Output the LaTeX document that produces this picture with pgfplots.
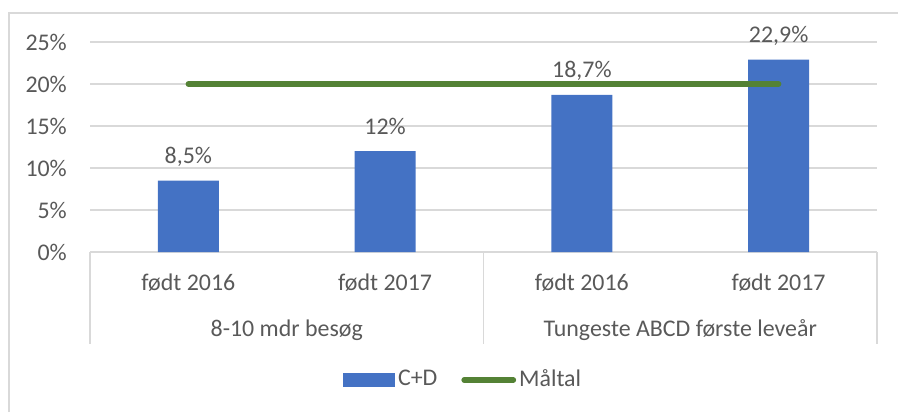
\documentclass[border=0pt]{standalone}
\usepackage{pgfplots}
\pgfplotsset{compat=1.18}
\usepackage{fontspec}
\setmainfont{Carlito}
\definecolor{barblue}{HTML}{4472C4}
\definecolor{goalgreen}{HTML}{548235}
\definecolor{txtgray}{HTML}{595959}
\definecolor{gridgray}{HTML}{D9D9D9}
\begin{document}
\begin{tikzpicture}[x=1bp,y=1bp]
\fontsize{24}{28}\selectfont
\useasboundingbox (0,0) rectangle (898,-412);
\draw[gridgray, line width=1.3bp] (9,-412) -- (9,-13) -- (898,-13);
\begin{axis}[
  at={(90bp,-252bp)}, anchor=south west,
  width=787bp, height=210bp, scale only axis,
  xmin=-0.5, xmax=3.5, ymin=0, ymax=25,
  clip=false,
  axis line style={draw=none},
  major tick length=0pt,
  xtick={0,1,2,3},
  xticklabels={født 2016, født 2017, født 2016, født 2017},
  ytick={0,5,10,15,20,25},
  yticklabel={\pgfmathprintnumber{\tick}\%},
  /pgf/number format/assume math mode=true,
  ymajorgrids,
  grid style={gridgray, line width=1.3bp},
  tick label style={font=\fontsize{24}{28}\selectfont, text=txtgray},
  xticklabel style={anchor=base, yshift=-38bp},
  yticklabel style={xshift=-15bp},
  legend style={draw=none, fill=none, inner sep=0pt, outer sep=0pt,
    anchor=west, at={(axis description cs:0.3215,-0.6095)},
    legend columns=2, font=\fontsize{24}{28}\selectfont, text=txtgray,
    /tikz/every even column/.append style={column sep=21bp},
    nodes={inner xsep=3bp}},
]
\addplot[ybar, bar width=61bp, fill=barblue, draw=none,
  point meta=y,
  nodes near coords={\pgfmathprintnumber[use comma, fixed, precision=1]{\pgfplotspointmeta}\%},
  every node near coord/.append style={anchor=base, yshift=17bp, text=txtgray, font=\fontsize{24}{28}\selectfont, /pgf/number format/assume math mode=true},
  legend image code/.code={\fill[barblue] (0bp,-7bp) rectangle (52bp,7bp);}]
  coordinates {(0,8.5) (1,12) (2,18.7) (3,22.9)};
\addlegendentry{C+D}
\addplot[goalgreen, line width=5.5bp, line cap=round, mark=none,
  legend image code/.code={\draw[goalgreen, line width=5.5bp, line cap=round] (2.75bp,0bp) -- (52bp,0bp);}]
  coordinates {(0,20) (3,20)};
\addlegendentry{Måltal}
% category separators
\draw[gridgray, line width=1.3bp] (axis cs:-0.5,0) -- ++(0bp,-92bp);
\draw[gridgray, line width=1.3bp] (axis cs:1.5,0) -- ++(0bp,-92bp);
\draw[gridgray, line width=1.3bp] (axis cs:3.5,0) -- ++(0bp,-92bp);
\node[anchor=base, text=txtgray, font=\fontsize{24}{28}\selectfont] at ([yshift=-84bp]axis cs:0.5,0) {8-10 mdr besøg};
\node[anchor=base, text=txtgray, font=\fontsize{24}{28}\selectfont] at ([yshift=-84bp]axis cs:2.5,0) {Tungeste ABCD første leveår};
\end{axis}
\end{tikzpicture}
\end{document}
